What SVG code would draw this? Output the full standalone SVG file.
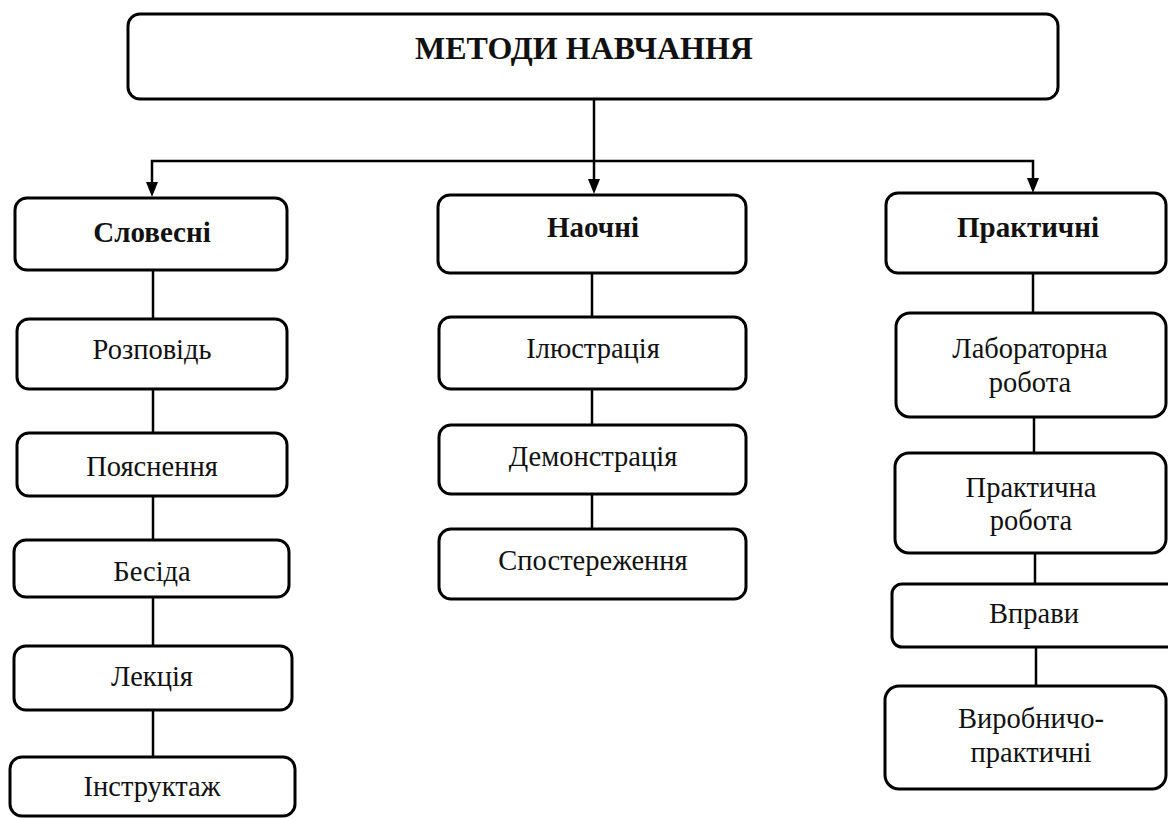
<svg xmlns="http://www.w3.org/2000/svg" width="1168" height="818" viewBox="0 0 1168 818">
<style>
.box{fill:#fff;stroke:#000;stroke-width:3}
.ln{stroke:#000;stroke-width:2.5;fill:none}
.ah{fill:#000}
.t{font-family:"Liberation Serif","Times New Roman",serif;font-size:28.5px;text-anchor:middle;fill:#111}
.b{font-weight:bold;font-size:29px}
</style>
<rect width="1168" height="818" fill="#fff"/>
<g id="connectors">
<line class="ln" x1="594" y1="99" x2="594" y2="182"/>
<path class="ah" d="M588,179 L600,179 L594,194 Z"/>
<polyline class="ln" points="152,184 152,161 1033,161 1033,180"/>
<path class="ah" d="M146,182 L158,182 L152,197 Z"/>
<path class="ah" d="M1027,178 L1039,178 L1033,193 Z"/>
<line class="ln" x1="153" y1="270" x2="153" y2="319"/>
<line class="ln" x1="153" y1="389" x2="153" y2="433"/>
<line class="ln" x1="153" y1="496" x2="153" y2="540"/>
<line class="ln" x1="153" y1="597" x2="153" y2="646"/>
<line class="ln" x1="153" y1="710" x2="153" y2="757"/>
<line class="ln" x1="592" y1="273" x2="592" y2="317"/>
<line class="ln" x1="592" y1="389" x2="592" y2="425"/>
<line class="ln" x1="592" y1="494" x2="592" y2="529"/>
<line class="ln" x1="1033" y1="273" x2="1033" y2="313"/>
<line class="ln" x1="1034" y1="417" x2="1034" y2="453"/>
<line class="ln" x1="1035" y1="553" x2="1035" y2="584"/>
<line class="ln" x1="1036" y1="647" x2="1036" y2="686"/>
</g>
<g id="root"><rect class="box" x="128" y="14" width="930" height="85" rx="12"/><text class="t b" x="584" y="59" style="font-size:32px">МЕТОДИ НАВЧАННЯ</text></g>
<g id="slovesni"><rect class="box" x="15" y="198" width="272" height="72" rx="12"/><text class="t b" x="152" y="242">Словесні</text></g>
<g id="naochni"><rect class="box" x="438" y="195" width="308" height="78" rx="12"/><text class="t b" x="593" y="237">Наочні</text></g>
<g id="praktychni"><rect class="box" x="886" y="193" width="280" height="80" rx="12"/><text class="t b" x="1028" y="237">Практичні</text></g>
<g id="rozpovid"><rect class="box" x="17" y="319" width="270" height="70" rx="12"/><text class="t" x="152" y="359">Розповідь</text></g>
<g id="poiasnennia"><rect class="box" x="17" y="433" width="270" height="63" rx="12"/><text class="t" x="152" y="476">Пояснення</text></g>
<g id="besida"><rect class="box" x="14" y="540" width="275" height="57" rx="12"/><text class="t" x="152" y="581">Бесіда</text></g>
<g id="lektsiia"><rect class="box" x="14" y="646" width="278" height="64" rx="12"/><text class="t" x="152" y="686">Лекція</text></g>
<g id="instruktazh"><rect class="box" x="10" y="757" width="285" height="59" rx="12"/><text class="t" x="152" y="796">Інструктаж</text></g>
<g id="iliustratsiia"><rect class="box" x="439" y="317" width="307" height="72" rx="12"/><text class="t" x="593" y="358">Ілюстрація</text></g>
<g id="demonstratsiia"><rect class="box" x="439" y="425" width="307" height="69" rx="12"/><text class="t" x="593" y="466">Демонстрація</text></g>
<g id="sposterezhennia"><rect class="box" x="439" y="529" width="307" height="70" rx="12"/><text class="t" x="593" y="570">Спостереження</text></g>
<g id="laboratorna"><rect class="box" x="896" y="313" width="270" height="104" rx="14"/><text class="t" x="1030" y="358">Лабораторна</text><text class="t" x="1030" y="392">робота</text></g>
<g id="praktychna"><rect class="box" x="895" y="453" width="271" height="100" rx="14"/><text class="t" x="1031" y="497">Практична</text><text class="t" x="1031" y="530">робота</text></g>
<g id="vpravy"><rect class="box" x="892" y="584" width="290" height="63" rx="10"/><text class="t" x="1034" y="623">Вправи</text></g>
<g id="vyrobnycho"><rect class="box" x="885" y="686" width="281" height="103" rx="14"/><text class="t" x="1031" y="728">Виробничо-</text><text class="t" x="1031" y="762">практичні</text></g>
</svg>
